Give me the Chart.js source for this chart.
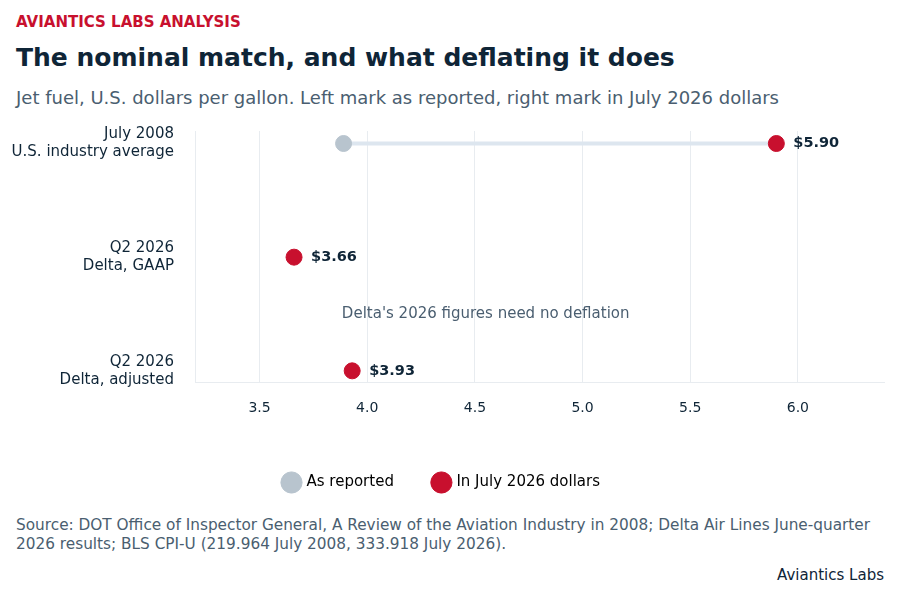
<!DOCTYPE html>
<html>
<head>
<meta charset="utf-8">
<script src="https://cdn.jsdelivr.net/npm/chart.js@4"></script>
<style>
  body { margin: 0; width: 900px; height: 600px; background: #fff; font-family: "DejaVu Sans", sans-serif; position: relative; overflow: hidden; }
  .kicker { position: absolute; left: 16px; top: 13px; font-size: 15px; font-weight: bold; color: #c8102e; }
  .title { position: absolute; left: 16px; top: 43px; font-size: 25px; font-weight: bold; color: #0f2537; }
  .sub { position: absolute; left: 16px; top: 87px; font-size: 18px; color: #4a5e70; }
  .src { position: absolute; left: 16px; top: 516px; font-size: 15.3px; color: #4a5e70; line-height: 19px; }
  .brand { position: absolute; right: 16px; top: 566px; font-size: 15px; color: #0f2537; }
  #wrap { position: absolute; left: 0; top: 100px; width: 900px; height: 400px; }
</style>
</head>
<body>
<div class="kicker">AVIANTICS LABS ANALYSIS</div>
<div class="title">The nominal match, and what deflating it does</div>
<div class="sub">Jet fuel, U.S. dollars per gallon. Left mark as reported, right mark in July 2026 dollars</div>
<div id="wrap"><canvas id="c"></canvas></div>
<div class="src">Source: DOT Office of Inspector General, A Review of the Aviation Industry in 2008; Delta Air Lines June-quarter<br>2026 results; BLS CPI-U (219.964 July 2008, 333.918 July 2026).</div>
<div class="brand">Aviantics Labs</div>
<script>
// rows, top to bottom
const categories = [
  ['July 2008', 'U.S. industry average'],
  ['Q2 2026', 'Delta, GAAP'],
  ['Q2 2026', 'Delta, adjusted']
];
const asReported = [3.89, null, null];
const inJuly2026 = [5.90, 3.66, 3.93];
const xTicks = [3.5, 4.0, 4.5, 5.0, 5.5, 6.0];
const note = "Delta's 2026 figures need no deflation";

const RED = '#c8102e', GRAY = '#b8c4ce', NAVY = '#0f2537';

const toPts = arr => arr.map((v, i) => v == null ? null : { x: v, y: i }).filter(p => p);

const dumbbell = {
  id: 'dumbbell',
  beforeDatasetsDraw(chart) {
    const { ctx, scales: { x, y } } = chart;
    ctx.save();
    ctx.strokeStyle = '#dde6ef';
    ctx.lineWidth = 4;
    asReported.forEach((v, i) => {
      if (v == null) return;
      ctx.beginPath();
      ctx.moveTo(x.getPixelForValue(v), y.getPixelForValue(i));
      ctx.lineTo(x.getPixelForValue(inJuly2026[i]), y.getPixelForValue(i));
      ctx.stroke();
    });
    ctx.restore();
  },
  afterDatasetsDraw(chart) {
    const { ctx, scales: { x, y } } = chart;
    ctx.save();
    ctx.font = 'bold 14.5px "DejaVu Sans"';
    ctx.fillStyle = NAVY;
    ctx.textBaseline = 'middle';
    inJuly2026.forEach((v, i) => {
      ctx.fillText('$' + v.toFixed(2), x.getPixelForValue(v) + 17, y.getPixelForValue(i));
    });
    ctx.font = '15px "DejaVu Sans"';
    ctx.fillStyle = '#4a5e70';
    ctx.textAlign = 'center';
    ctx.fillText(note, x.getPixelForValue(4.55), y.getPixelForValue(1.5));
    ctx.restore();
  }
};

new Chart(document.getElementById('c'), {
  type: 'scatter',
  data: {
    datasets: [
      { label: 'As reported', data: toPts(asReported), backgroundColor: GRAY, borderColor: GRAY, pointRadius: 8, pointHoverRadius: 8 },
      { label: 'In July 2026 dollars', data: toPts(inJuly2026), backgroundColor: RED, borderColor: RED, pointRadius: 8, pointHoverRadius: 8 }
    ]
  },
  options: {
    responsive: true,
    maintainAspectRatio: false,
    animation: false,
    layout: { padding: { top: 0, right: 16, left: 0, bottom: 0 } },
    plugins: {
      tooltip: { enabled: false },
      legend: {
        position: 'bottom',
        labels: { usePointStyle: true, pointStyle: 'circle', boxWidth: 16, boxHeight: 16, padding: 40, color: '#000', font: { family: 'DejaVu Sans', size: 15 } }
      }
    },
    scales: {
      x: {
        type: 'linear', min: 3.2, max: 6.4,
        afterBuildTicks: s => { s.ticks = xTicks.map(v => ({ value: v })); },
        ticks: { callback: v => v.toFixed(1), color: NAVY, font: { family: 'DejaVu Sans', size: 14 }, padding: 18 },
        grid: { color: '#e8ecf0', drawTicks: false },
        border: { color: '#e8ecf0' }
      },
      y: {
        type: 'linear', reverse: true, min: -0.11, max: 2.1,
        afterBuildTicks: s => { s.ticks = categories.map((c, i) => ({ value: i })); },
        afterFit: s => { s.width = 195; },
        ticks: { callback: v => categories[v], color: NAVY, font: { family: 'DejaVu Sans', size: 15 }, padding: 13 },
        grid: { display: false },
        border: { color: '#e8ecf0' }
      }
    }
  },
  plugins: [dumbbell]
});
</script>
</body>
</html>
